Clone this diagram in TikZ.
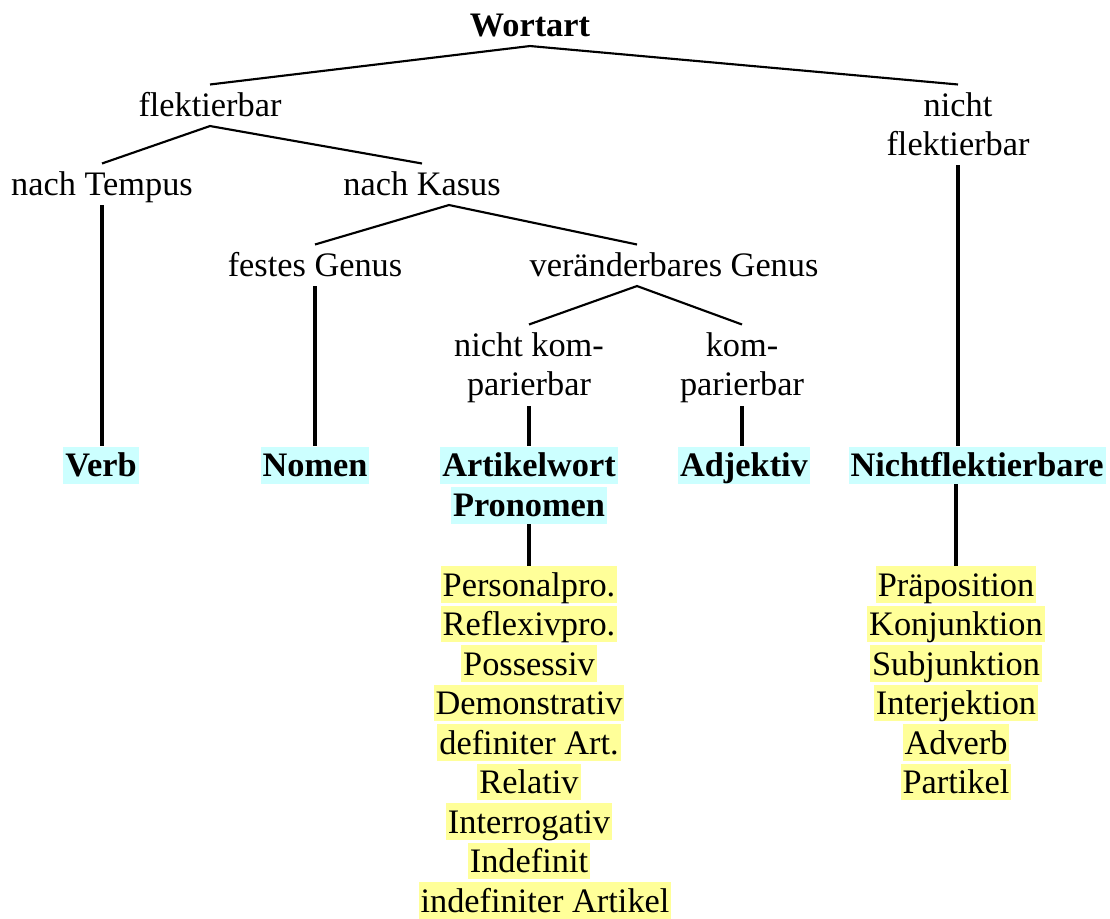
\documentclass[tikz,border=0pt]{standalone}
\usepackage{fontspec}
\setmainfont{Liberation Serif}
\definecolor{hlcyan}{HTML}{CCFFFF}
\definecolor{hlyellow}{HTML}{FFFF99}

\tikzset{every picture/.style={line width=0.75pt}}
\tikzset{
  lab/.style={inner sep=0pt, anchor=base, text height=24pt, text depth=6.4pt,
    font=\fontsize{25.75pt}{29.25pt}\selectfont},
  twoline/.style={lab, align=center, text height=53.25pt},
  hlbox/.style={inner xsep=1.5pt, inner ysep=0pt, anchor=base, text height=22.5pt, text depth=5pt,
    font=\fontsize{25.75pt}{29.25pt}\selectfont},
  wordclass/.style={hlbox, fill=hlcyan, font=\fontsize{25.75pt}{29.25pt}\selectfont\bfseries},
  member/.style={hlbox, fill=hlyellow},
  branch/.style={line width=1.6pt},
  stem/.style={line width=2.3pt},
}

\begin{document}
\begin{tikzpicture}[x=0.75pt,y=0.75pt,yscale=-1,xscale=1]
%set diagram left start at 0, and has height of 919
\useasboundingbox (0,0) rectangle (1110,919);

% Text Node
\node [lab, font=\fontsize{25.75pt}{29.25pt}\selectfont\bfseries] (wortart) at (530,37) {Wortart};
% Text Node
\node [lab] (flekt) at (210,117) {flektierbar};
% Text Node
\node [twoline] (nflekt) at (958,156) {nicht\\flektierbar};
% Text Node
\node [lab] (tempus) at (102,196) {nach Tempus};
% Text Node
\node [lab] (kasus) at (422,196) {nach Kasus};
% Text Node
\node [lab] (fgenus) at (315,277) {festes Genus};
% Text Node
\node [lab] (vgenus) at (674,277) {veränderbares Genus};
% Text Node
\node [twoline, text depth=7.5pt] (nkomp) at (529,396) {nicht kom-\\parierbar};
% Text Node
\node [twoline, text depth=7.5pt] (komp) at (742,396) {kom-\\parierbar};

% Word classes
\node [wordclass] (verb) at (101,477) {Verb};
\node [wordclass] (nomen) at (315,477) {Nomen};
\node [wordclass] (artikel) at (529,477) {Artikelwort};
\node [wordclass] (pronomen) at (529,517) {Pronomen};
\node [wordclass] (adjektiv) at (744,477) {Adjektiv};
\node [wordclass] (nflb) at (977,477) {Nichtflektierbare};

% Pronoun kinds
\node [member] (personal) at (529,596) {Personalpro.};
\node [member] (reflexiv) at (529,635.5) {Reflexivpro.};
\node [member] (possessiv) at (529,675) {Possessiv};
\node [member] (demonstr) at (529,714.5) {Demonstrativ};
\node [member] (defart) at (529,754) {definiter Art.};
\node [member] (relativ) at (529,793.5) {Relativ};
\node [member] (interrog) at (529,833) {Interrogativ};
\node [member] (indefinit) at (529,872.5) {Indefinit};
\node [member] (indefart) at (545,912) {indefiniter Artikel};

% Uninflected kinds
\node [member] (praep) at (956,596) {Präposition};
\node [member] (konj) at (956,635.5) {Konjunktion};
\node [member] (subj) at (956,675) {Subjunktion};
\node [member] (interj) at (956,714.5) {Interjektion};
\node [member] (adverb) at (956,754) {Adverb};
\node [member] (partikel) at (956,793.5) {Partikel};

\coordinate (kasusfork) at ([xshift=20.25pt]kasus.south);
\coordinate (vgenusin) at ([xshift=-27.75pt]vgenus.north);
\coordinate (vgenusfork) at ([xshift=-27.75pt]vgenus.south);

%Straight Lines
\draw [branch] (flekt.north) -- (wortart.south) -- (nflekt.north);
\draw [branch] (tempus.north) -- (flekt.south) -- (kasus.north);
\draw [branch] (fgenus.north) -- (kasusfork) -- (vgenusin);
\draw [branch] (nkomp.north) -- (vgenusfork) -- (komp.north);
%Straight Lines
\draw [stem] (tempus.south) -- (tempus.south |- verb.north);
\draw [stem] (fgenus.south) -- (fgenus.south |- nomen.north);
\draw [stem] (nkomp.south) -- (nkomp.south |- artikel.north);
\draw [stem] (komp.south) -- (komp.south |- adjektiv.north);
\draw [stem] (nflekt.south) -- (nflekt.south |- nflb.north);
\draw [stem] (pronomen.south) -- (pronomen.south |- personal.north);
\draw [stem] (praep.north |- nflb.south) -- (praep.north);

\end{tikzpicture}
\end{document}
